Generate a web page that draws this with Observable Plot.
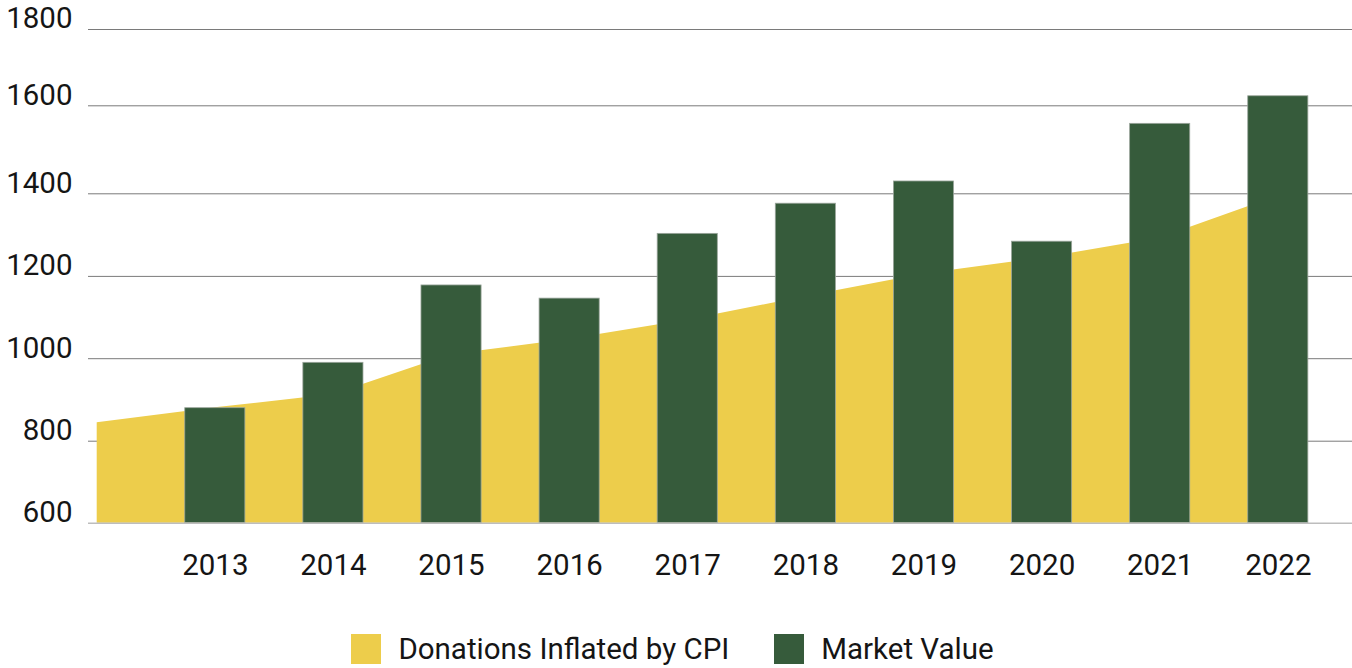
<!DOCTYPE html>
<html><head><meta charset="utf-8">
<script src="https://cdn.jsdelivr.net/npm/d3@7"></script>
<script src="https://cdn.jsdelivr.net/npm/@observablehq/plot@0.6"></script>
<style>
html,body{margin:0;padding:0;background:#fff;}
body{width:1352px;height:668px;overflow:hidden;font-family:Roboto,sans-serif;}
#chart svg{display:block;}
#legend{display:flex;justify-content:center;align-items:center;margin-top:19px;height:30px;padding-right:7px;font-size:29.5px;color:#151515;font-family:Roboto,sans-serif;}
.item{display:flex;align-items:center;}
.item + .item{margin-left:45px;}
.sw{width:30px;height:30px;margin-right:17px;}
</style></head><body>
<div id="chart"></div>
<div id="legend"></div>
<script>
// Data
const donationYears = [2012, 2013, 2014, 2015, 2016, 2017, 2018, 2019, 2020, 2021, 2022];
const donationValues = [845, 881, 913, 1010, 1047, 1094, 1151, 1206, 1244, 1293, 1395];
const marketYears = [2013, 2014, 2015, 2016, 2017, 2018, 2019, 2020, 2021, 2022];
const marketValues = [880, 990, 1178, 1146, 1303, 1376, 1428, 1284, 1559, 1625];
const yTicks = [600, 800, 1000, 1200, 1400, 1600, 1800];
const xTicks = [2013, 2014, 2015, 2016, 2017, 2018, 2019, 2020, 2021, 2022];
const seriesNames = ["Donations Inflated by CPI", "Market Value"];
const seriesColors = ["#EDCD4B", "#365B3B"];

const donations = donationYears.map((year, i) => ({year, value: donationValues[i]}));
const market = marketYears.map((year, i) => ({year, value: marketValues[i]}));
const yBase = yTicks[0];

const chart = Plot.plot({
  width: 1352,
  height: 615,
  marginLeft: 88,
  marginRight: 0,
  marginTop: 20,
  marginBottom: 92,
  style: {fontFamily: "Roboto, sans-serif", background: "#fff"},
  x: {type: "linear", domain: [2012, 2022], range: [96.7, 1277.8]},
  y: {type: "linear", domain: yTicks, range: [522.7, 440.7, 358.2, 275.9, 193.3, 105.3, 29]},
  marks: [
    Plot.ruleY(yTicks.slice(1), {stroke: "#7a7a7a", strokeWidth: 1}),
    Plot.areaY(donations, {x: "year", y1: () => yBase, y2: "value", fill: seriesColors[0]}),
    Plot.rectY(market, {
      x1: d => d.year - 0.5, x2: d => d.year + 0.5,
      y1: () => yBase, y2: "value",
      insetLeft: 29, insetRight: 29,
      fill: seriesColors[1], stroke: "#9aa59b", strokeWidth: 0.8
    }),
    Plot.ruleY([yBase], {stroke: "#bdbdbd", strokeWidth: 1.5}),
    Plot.axisY({ticks: yTicks, tickSize: 0, tickPadding: 16, fontSize: 29.5, fill: "#151515", dy: -10.5, label: null, tickFormat: d => String(d)}),
    Plot.axisX({ticks: xTicks, tickSize: 0, tickPadding: 31, fontSize: 29.5, fill: "#151515", label: null, tickFormat: d => String(d)})
  ]
});
document.getElementById("chart").appendChild(chart);

const legend = document.getElementById("legend");
seriesNames.forEach((name, i) => {
  const item = document.createElement("div");
  item.className = "item";
  const sw = document.createElement("div");
  sw.className = "sw";
  sw.style.background = seriesColors[i];
  const t = document.createElement("span");
  t.textContent = name;
  item.appendChild(sw);
  item.appendChild(t);
  legend.appendChild(item);
});
</script>
</body></html>
